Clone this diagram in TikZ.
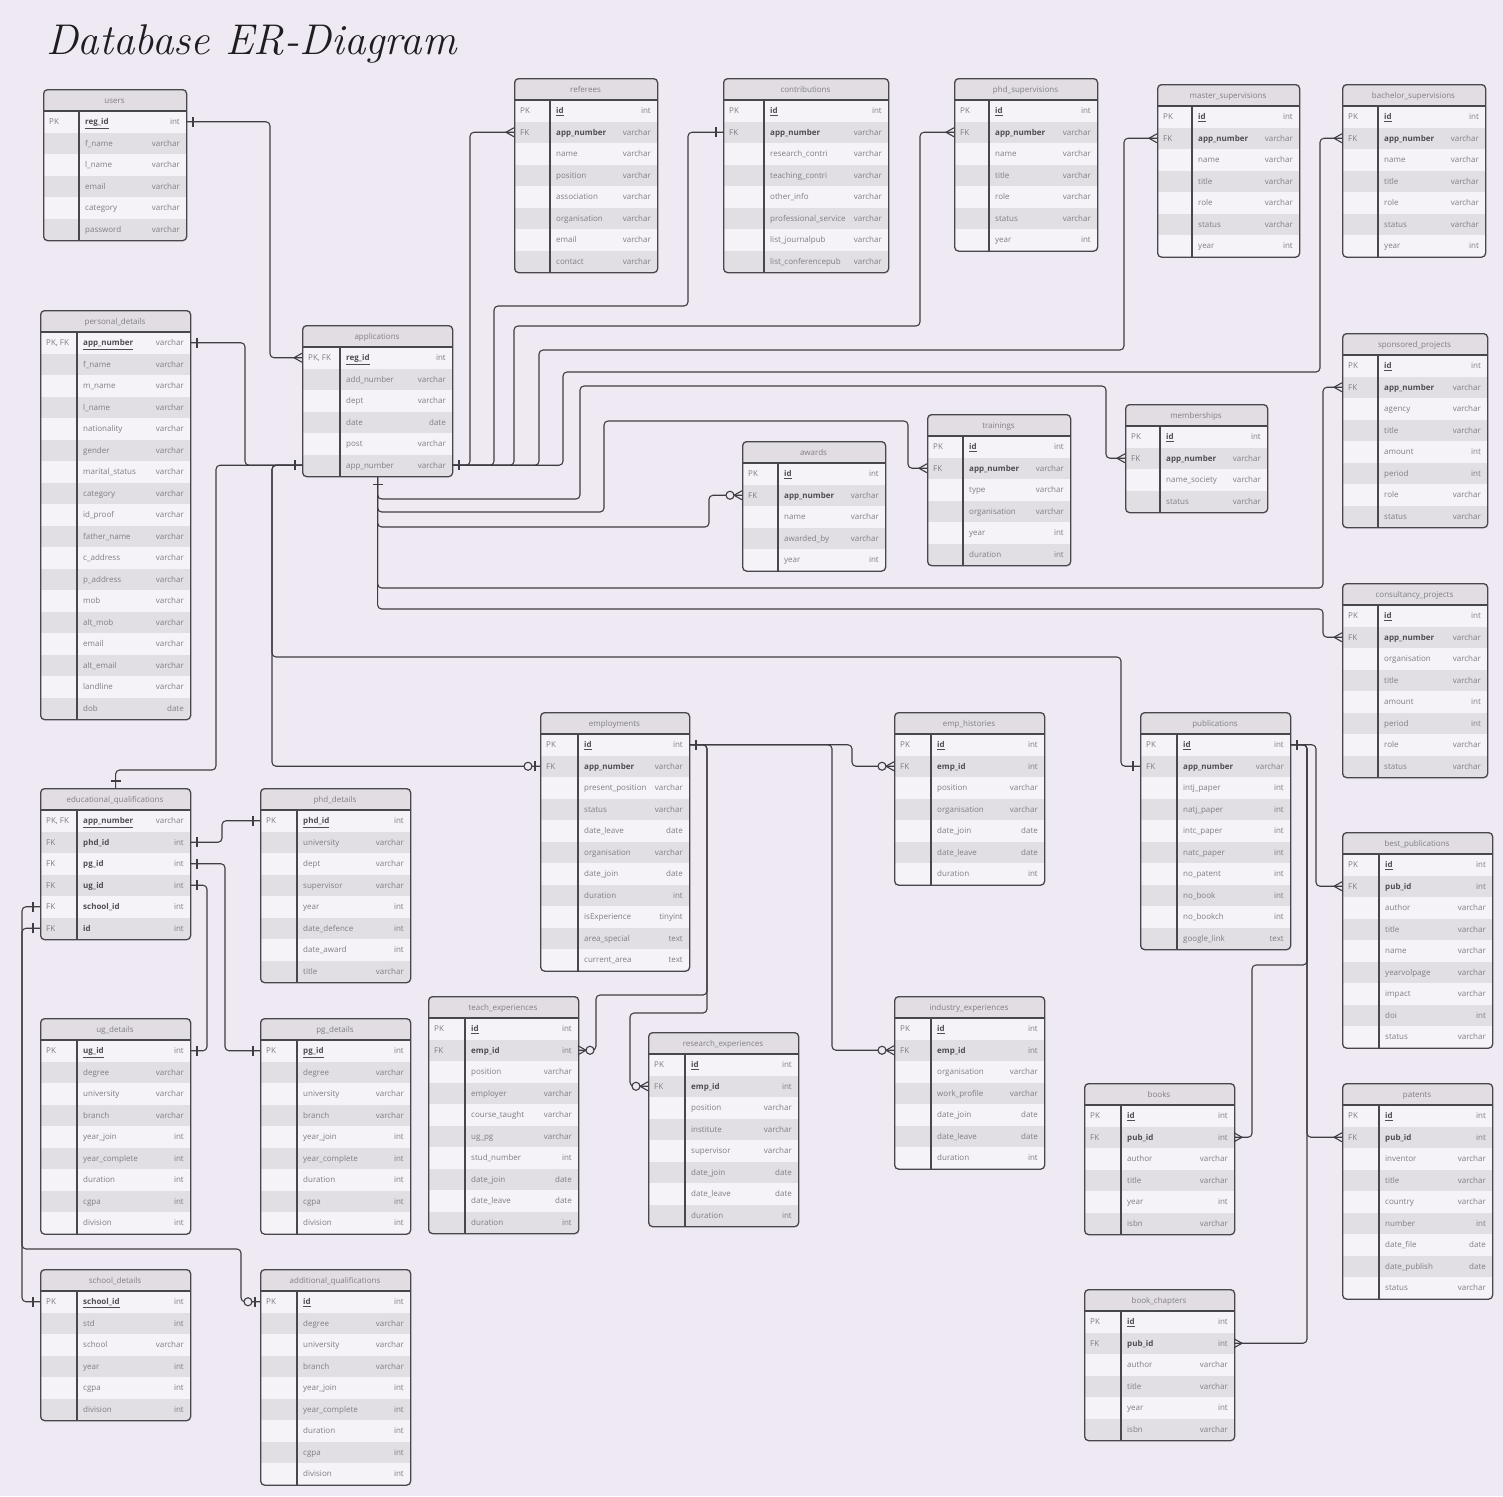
\documentclass[tikz,border=0pt]{standalone}
\usepackage{fontspec}
\newfontfamily\osans{Open Sans}
\usetikzlibrary{calc}
\definecolor{bg}{HTML}{EFE9F3}
\definecolor{rowA}{HTML}{F5F2F8}
\definecolor{rowB}{HTML}{E1DEE4}
\definecolor{hdr}{HTML}{E1DDE3}
\definecolor{edgec}{HTML}{48474C}
\definecolor{txt}{HTML}{807E84}
\definecolor{txtb}{HTML}{4E4D52}
\definecolor{lnk}{HTML}{3E3D42}
\definecolor{titlec}{HTML}{1E1E20}
\newcommand\erkey[1]{\ifcase#1\or PK\or FK\or PK, FK\fi}
\newcommand\erfield[2]{\ifcase#1 #2\or\textcolor{txtb}{\textbf{#2}}\or\textcolor{txtb}{\underline{\textbf{#2}}}\fi}
\tikzset{
  conn/.style={draw=lnk, line width=1.1pt, rounded corners=4pt},
  erline/.style={draw=lnk, line width=1.1pt},
  cell/.style={font=\osans\fontsize{8}{9}\selectfont, text=txt, inner sep=0pt},
  hdrtext/.style={font=\osans\fontsize{8}{9}\selectfont, text=txt, inner sep=0pt},
  tablebox/.style={draw=edgec, line width=1.3pt, rounded corners=4pt, inner sep=0pt, fill=none},
  erOne/.pic={\draw[erline] (7,-5) -- (7,5);},
  erMany/.pic={\draw[erline] (0,-4.5) -- (8,0) -- (0,4.5);},
  erZMany/.pic={\draw[erline] (0,-4.5) -- (8,0) -- (0,4.5); \draw[erline, fill=bg] (12,0) circle (4pt);},
  erZOne/.pic={\draw[erline] (5,-5) -- (5,5); \draw[erline, fill=bg] (12,0) circle (4pt);},
}
% #1 name #2 x #3 y #4 width #5 divider #6 rows #7 title #8 row list
\newcommand{\ertable}[8]{%
  \pgfmathsetmacro\erH{22+21.5*#6}%
  \begin{scope}
    \clip[rounded corners=4pt] (#2,#3) rectangle ++(#4,\erH);
    \fill[hdr] (#2,#3) rectangle ++(#4,22);
    \foreach \ek/\ef/\et/\es [count=\i from 0] in {#8} {%
      \pgfmathsetmacro\ry{#3+22+21.5*\i}%
      \ifodd\i \fill[rowB] (#2,\ry) rectangle ++(#4,21.5);\else \fill[rowA] (#2,\ry) rectangle ++(#4,21.5);\fi
    }
  \end{scope}
  \foreach \ek/\ef/\et/\es [count=\i from 0] in {#8} {%
    \pgfmathsetmacro\ry{#3+32.75+21.5*\i}%
    \pgfmathsetmacro\rb{\ry+3}%
    \coordinate (#1-l\i) at (#2,\ry);
    \coordinate (#1-r\i) at (#2+#4,\ry);
    \node[cell, anchor=base west] (#1-k\i) at (#2+6,\rb) {\erkey{\ek}};
    \node[cell, anchor=base west] (#1-f\i) at (#2+#5+6,\rb) {\erfield{\es}{\ef}};
    \node[cell, anchor=base east] (#1-t\i) at (#2+#4-6,\rb) {\et};
  }
  \draw[edgec, line width=1.2pt] (#2,#3+22) -- ++(#4,0);
  \draw[edgec, line width=1.2pt] (#2+#5,#3+22) -- ++(0,\erH-22);
  \node[tablebox, minimum width=#4pt, minimum height=\erH pt, anchor=north west] (#1) at (#2,#3) {};
  \node[hdrtext, anchor=base] (#1-title) at (#2+#4/2,#3+14) {#7};
}
\begin{document}
\begin{tikzpicture}[x=1pt,y=-1pt]
\fill[bg] (0,0) rectangle (1503,1496);
\useasboundingbox (0,0) rectangle (1503,1496);
\node[anchor=base west, inner sep=0pt, font=\fontsize{43}{48}\selectfont\itshape, text=titlec] (title) at (46,55) {Database ER-Diagram};

\ertable{users}{43}{89}{143}{36}{6}{users}{1/reg\_id/int/2, 0/f\_name/varchar/0, 0/l\_name/varchar/0, 0/email/varchar/0, 0/category/varchar/0, 0/password/varchar/0}
\ertable{pd}{40}{310}{150}{37}{18}{personal\_details}{3/app\_number/varchar/2, 0/f\_name/varchar/0, 0/m\_name/varchar/0, 0/l\_name/varchar/0, 0/nationality/varchar/0, 0/gender/varchar/0, 0/marital\_status/varchar/0, 0/category/varchar/0, 0/id\_proof/varchar/0, 0/father\_name/varchar/0, 0/c\_address/varchar/0, 0/p\_address/varchar/0, 0/mob/varchar/0, 0/alt\_mob/varchar/0, 0/email/varchar/0, 0/alt\_email/varchar/0, 0/landline/varchar/0, 0/dob/date/0}
\ertable{app}{302}{325}{150}{38}{6}{applications}{3/reg\_id/int/2, 0/add\_number/varchar/0, 0/dept/varchar/0, 0/date/date/0, 0/post/varchar/0, 0/app\_number/varchar/0}
\ertable{ref}{514}{78}{143}{36}{8}{referees}{1/id/int/2, 2/app\_number/varchar/1, 0/name/varchar/0, 0/position/varchar/0, 0/association/varchar/0, 0/organisation/varchar/0, 0/email/varchar/0, 0/contact/varchar/0}
\ertable{contrib}{723}{78}{165}{41}{8}{contributions}{1/id/int/2, 2/app\_number/varchar/1, 0/research\_contri/varchar/0, 0/teaching\_contri/varchar/0, 0/other\_info/varchar/0, 0/professional\_service/varchar/0, 0/list\_journalpub/varchar/0, 0/list\_conferencepub/varchar/0}
\ertable{phds}{954}{78}{143}{35}{7}{phd\_supervisions}{1/id/int/2, 2/app\_number/varchar/1, 0/name/varchar/0, 0/title/varchar/0, 0/role/varchar/0, 0/status/varchar/0, 0/year/int/0}
\ertable{mast}{1157}{84}{142}{35}{7}{master\_supervisions}{1/id/int/2, 2/app\_number/varchar/1, 0/name/varchar/0, 0/title/varchar/0, 0/role/varchar/0, 0/status/varchar/0, 0/year/int/0}
\ertable{bach}{1342}{84}{143}{36}{7}{bachelor\_supervisions}{1/id/int/2, 2/app\_number/varchar/1, 0/name/varchar/0, 0/title/varchar/0, 0/role/varchar/0, 0/status/varchar/0, 0/year/int/0}
\ertable{spons}{1342}{333}{145}{36}{8}{sponsored\_projects}{1/id/int/2, 2/app\_number/varchar/1, 0/agency/varchar/0, 0/title/varchar/0, 0/amount/int/0, 0/period/int/0, 0/role/varchar/0, 0/status/varchar/0}
\ertable{memb}{1125}{404}{142}{35}{4}{memberships}{1/id/int/2, 2/app\_number/varchar/1, 0/name\_society/varchar/0, 0/status/varchar/0}
\ertable{train}{927}{414}{143}{36}{6}{trainings}{1/id/int/2, 2/app\_number/varchar/1, 0/type/varchar/0, 0/organisation/varchar/0, 0/year/int/0, 0/duration/int/0}
\ertable{award}{742}{441}{143}{36}{5}{awards}{1/id/int/2, 2/app\_number/varchar/1, 0/name/varchar/0, 0/awarded\_by/varchar/0, 0/year/int/0}
\ertable{consult}{1342}{583}{145}{36}{8}{consultancy\_projects}{1/id/int/2, 2/app\_number/varchar/1, 0/organisation/varchar/0, 0/title/varchar/0, 0/amount/int/0, 0/period/int/0, 0/role/varchar/0, 0/status/varchar/0}
\ertable{emp}{540}{712}{149}{38}{11}{employments}{1/id/int/2, 2/app\_number/varchar/1, 0/present\_position/varchar/0, 0/status/varchar/0, 0/date\_leave/date/0, 0/organisation/varchar/0, 0/date\_join/date/0, 0/duration/int/0, 0/isExperience/tinyint/0, 0/area\_special/text/0, 0/current\_area/text/0}
\ertable{emph}{894}{712}{150}{37}{7}{emp\_histories}{1/id/int/2, 2/emp\_id/int/1, 0/position/varchar/0, 0/organisation/varchar/0, 0/date\_join/date/0, 0/date\_leave/date/0, 0/duration/int/0}
\ertable{pub}{1140}{712}{150}{37}{10}{publications}{1/id/int/2, 2/app\_number/varchar/1, 0/intj\_paper/int/0, 0/natj\_paper/int/0, 0/intc\_paper/int/0, 0/natc\_paper/int/0, 0/no\_patent/int/0, 0/no\_book/int/0, 0/no\_bookch/int/0, 0/google\_link/text/0}
\ertable{bestp}{1342}{832}{150}{37}{9}{best\_publications}{1/id/int/2, 2/pub\_id/int/1, 0/author/varchar/0, 0/title/varchar/0, 0/name/varchar/0, 0/yearvolpage/varchar/0, 0/impact/varchar/0, 0/doi/int/0, 0/status/varchar/0}
\ertable{books}{1084}{1083}{150}{37}{6}{books}{1/id/int/2, 2/pub\_id/int/1, 0/author/varchar/0, 0/title/varchar/0, 0/year/int/0, 0/isbn/varchar/0}
\ertable{pat}{1342}{1083}{150}{37}{9}{patents}{1/id/int/2, 2/pub\_id/int/1, 0/inventor/varchar/0, 0/title/varchar/0, 0/country/varchar/0, 0/number/int/0, 0/date\_file/date/0, 0/date\_publish/date/0, 0/status/varchar/0}
\ertable{bookch}{1084}{1289}{150}{37}{6}{book\_chapters}{1/id/int/2, 2/pub\_id/int/1, 0/author/varchar/0, 0/title/varchar/0, 0/year/int/0, 0/isbn/varchar/0}
\ertable{edu}{40}{788}{150}{37}{6}{educational\_qualifications}{3/app\_number/varchar/2, 2/phd\_id/int/1, 2/pg\_id/int/1, 2/ug\_id/int/1, 2/school\_id/int/1, 2/id/int/1}
\ertable{phdd}{260}{788}{150}{37}{8}{phd\_details}{1/phd\_id/int/2, 0/university/varchar/0, 0/dept/varchar/0, 0/supervisor/varchar/0, 0/year/int/0, 0/date\_defence/int/0, 0/date\_award/int/0, 0/title/varchar/0}
\ertable{ugd}{40}{1018}{150}{37}{9}{ug\_details}{1/ug\_id/int/2, 0/degree/varchar/0, 0/university/varchar/0, 0/branch/varchar/0, 0/year\_join/int/0, 0/year\_complete/int/0, 0/duration/int/0, 0/cgpa/int/0, 0/division/int/0}
\ertable{pgd}{260}{1018}{150}{37}{9}{pg\_details}{1/pg\_id/int/2, 0/degree/varchar/0, 0/university/varchar/0, 0/branch/varchar/0, 0/year\_join/int/0, 0/year\_complete/int/0, 0/duration/int/0, 0/cgpa/int/0, 0/division/int/0}
\ertable{teach}{428}{996}{150}{37}{10}{teach\_experiences}{1/id/int/2, 2/emp\_id/int/1, 0/position/varchar/0, 0/employer/varchar/0, 0/course\_taught/varchar/0, 0/ug\_pg/varchar/0, 0/stud\_number/int/0, 0/date\_join/date/0, 0/date\_leave/date/0, 0/duration/int/0}
\ertable{resx}{648}{1032}{150}{37}{8}{research\_experiences}{1/id/int/2, 2/emp\_id/int/1, 0/position/varchar/0, 0/institute/varchar/0, 0/supervisor/varchar/0, 0/date\_join/date/0, 0/date\_leave/date/0, 0/duration/int/0}
\ertable{indx}{894}{996}{150}{37}{7}{industry\_experiences}{1/id/int/2, 2/emp\_id/int/1, 0/organisation/varchar/0, 0/work\_profile/varchar/0, 0/date\_join/date/0, 0/date\_leave/date/0, 0/duration/int/0}
\ertable{school}{40}{1269}{150}{37}{6}{school\_details}{1/school\_id/int/2, 0/std/int/0, 0/school/varchar/0, 0/year/int/0, 0/cgpa/int/0, 0/division/int/0}
\ertable{addq}{260}{1269}{150}{37}{9}{additional\_qualifications}{1/id/int/2, 0/degree/varchar/0, 0/university/varchar/0, 0/branch/varchar/0, 0/year\_join/int/0, 0/year\_complete/int/0, 0/duration/int/0, 0/cgpa/int/0, 0/division/int/0}

% ---------- connectors ----------
\draw[conn] (users-r0) -| (270,0 |- app-l0) -- (app-l0);
\draw[conn] (app-l5) -| (245,0 |- pd-r0) -- (pd-r0);
\draw[conn] (app-l5) -| (216,770) -| (edu.north);
\draw[conn] (app-l5) -| (272,0 |- emp-l1) -- (emp-l1);
\draw[conn] (app-l5) -| (272,657) -| (1121,0 |- pub-l1) -- (pub-l1);
\draw[conn] (app-r5) -| (470,0 |- ref-l1) -- (ref-l1);
\draw[conn] (app-r5) -| (494,306) -| (688,0 |- contrib-l1) -- (contrib-l1);
\draw[conn] (app-r5) -| (514,326) -| (920,0 |- phds-l1) -- (phds-l1);
\draw[conn] (app-r5) -| (539,350) -| (1124,0 |- mast-l1) -- (mast-l1);
\draw[conn] (app-r5) -| (563,372) -| (1320,0 |- bach-l1) -- (bach-l1);
\draw[conn] (app.south) |- (580,499) |- (1106,386) |- (memb-l1);
\draw[conn] (app.south) |- (604,512) |- (908,421) |- (train-l1);
\draw[conn] (app.south) |- (709,527) |- (award-l1);
\draw[conn] (app.south) |- (1323,588) |- (spons-l1);
\draw[conn] (app.south) |- (1323,609) |- (consult-l1);
\draw[conn] (edu-r1) -| (222,0 |- phdd-l0) -- (phdd-l0);
\draw[conn] (edu-r2) -| (225,0 |- pgd-l0) -- (pgd-l0);
\draw[conn] (edu-r3) -| (207,0 |- ugd-r0) -- (ugd-r0);
\draw[conn] (edu-l4) -| (22,0 |- school-l0) -- (school-l0);
\draw[conn] (edu-l5) -| (22,1249) -| (241,0 |- addq-l0) -- (addq-l0);
\draw[conn] (emp-r0) -| (852,0 |- emph-l1) -- (emph-l1);
\draw[conn] (emp-r0) -| (832,0 |- indx-l1) -- (indx-l1);
\draw[conn] (emp-r0) -| (707,995) -| (596,0 |- teach-r1) -- (teach-r1);
\draw[conn] (emp-r0) -| (707,1013) -| (630,0 |- resx-l1) -- (resx-l1);
\draw[conn] (pub-r0) -| (1316,0 |- bestp-l1) -- (bestp-l1);
\draw[conn] (pub-r0) -| (1307,965) -| (1252,0 |- books-r1) -- (books-r1);
\draw[conn] (pub-r0) -| (1307,0 |- pat-l1) -- (pat-l1);
\draw[conn] (pub-r0) -| (1307,0 |- bookch-r1) -- (bookch-r1);

% ---------- end markers ----------
\pic at (users-r0) {erOne};
\pic[rotate=180] at (app-l0) {erMany};
\pic[rotate=180] at (app-l5) {erOne};
\pic at (pd-r0) {erOne};
\pic[rotate=90] at (edu.north) {erOne};
\pic[rotate=180] at (emp-l1) {erZOne};
\pic[rotate=180] at (pub-l1) {erOne};
\pic at (app-r5) {erOne};
\pic[rotate=180] at (ref-l1) {erMany};
\pic[rotate=180] at (contrib-l1) {erOne};
\pic[rotate=180] at (phds-l1) {erMany};
\pic[rotate=180] at (mast-l1) {erMany};
\pic[rotate=180] at (bach-l1) {erMany};
\pic[rotate=-90] at (app.south) {erOne};
\pic[rotate=180] at (memb-l1) {erMany};
\pic[rotate=180] at (train-l1) {erMany};
\pic[rotate=180] at (award-l1) {erZMany};
\pic[rotate=180] at (spons-l1) {erMany};
\pic[rotate=180] at (consult-l1) {erMany};
\pic at (edu-r1) {erOne};
\pic at (edu-r2) {erOne};
\pic at (edu-r3) {erOne};
\pic[rotate=180] at (phdd-l0) {erOne};
\pic[rotate=180] at (pgd-l0) {erOne};
\pic at (ugd-r0) {erOne};
\pic[rotate=180] at (edu-l4) {erOne};
\pic[rotate=180] at (edu-l5) {erOne};
\pic[rotate=180] at (school-l0) {erOne};
\pic[rotate=180] at (addq-l0) {erZOne};
\pic at (emp-r0) {erOne};
\pic[rotate=180] at (emph-l1) {erZMany};
\pic[rotate=180] at (indx-l1) {erZMany};
\pic at (teach-r1) {erZMany};
\pic[rotate=180] at (resx-l1) {erZMany};
\pic at (pub-r0) {erOne};
\pic[rotate=180] at (bestp-l1) {erMany};
\pic[rotate=180] at (pat-l1) {erMany};
\pic at (books-r1) {erMany};
\pic at (bookch-r1) {erMany};
\end{tikzpicture}
\end{document}
